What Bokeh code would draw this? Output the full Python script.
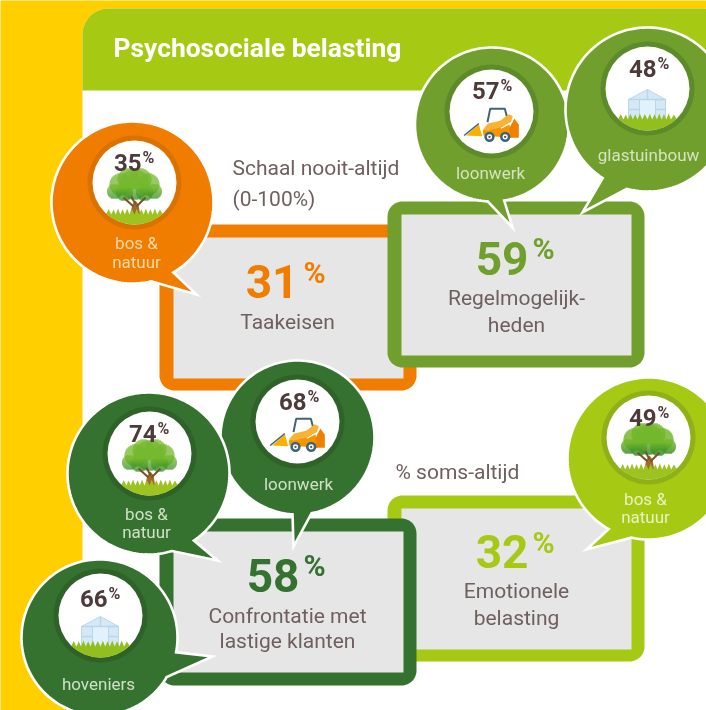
import numpy as np
from bokeh.embed import file_html
from bokeh.resources import INLINE
from bokeh.plotting import figure
from bokeh.models import Range1d
from bokeh.core.properties import value

# ---------- data ----------
title = "Psychosociale belasting"
note_scale = ["Schaal nooit-altijd", "(0-100%)"]
note_pct = "% soms-altijd"
box_names = [["Taakeisen"], ["Regelmogelijk-", "heden"], ["Emotionele", "belasting"], ["Confrontatie met", "lastige klanten"]]
box_values = [31, 59, 32, 58]
bubble_values = [35, 57, 48, 68, 74, 66, 49]
bubble_sectors = [["bos &", "natuur"], ["loonwerk"], ["glastuinbouw"], ["loonwerk"], ["bos &", "natuur"], ["hoveniers"], ["bos &", "natuur"]]
bubble_icons = ["tree", "loader", "house", "loader", "tree", "house", "tree"]

# ---------- styles & layout ----------
W, H = 706, 710
YELLOW, HEAD = "#FFCF00", "#A6C914"
ORANGE, MID, DARK, LIGHT = "#F07D00", "#709F2D", "#35722F", "#A6C914"
GREY = "#E6E6E6"
TXT, NUM = "#6F5F5F", "#4F3A3A"
FONT = value("Roboto")

# outer box, inner box, colour, number x (right), number baseline, % x, % baseline, label x, label baselines
boxes = [
    ((160, 225, 417, 391), (174, 238, 404, 379), ORANGE, 299, 298, 304, 283, 288, [329]),
    ((388, 202, 645, 368), (402, 215, 632, 356), MID, 529, 275, 533, 259, 517, [305, 332]),
    ((388, 496, 645, 662), (402, 509, 632, 650), LIGHT, 529, 568, 533, 553, 517, [598, 625]),
    ((160, 519, 417, 686), (174, 532, 404, 673), DARK, 300, 592, 304, 576, 288, [623, 648]),
]
box_order = [0, 1, 2, 3]

# centre, radius, attach a, attach b, tip, inner centre, colour, ring, label colour, number xr, baseline, label x, baselines
bubbles = [
    ((133, 203), 81, (175, 275), (152, 283), (197, 295), (135, 183), ORANGE, "#DB7200", "#FAD9A8", 142, 171, 137, [249, 268]),
    ((492.5, 125), 77, (505, 203), (488, 204), (513, 228), (492, 112), MID, "#5E8B2A", "#D5E3BE", 500, 99, 491, [179]),
    ((648, 110), 82, (603, 179), (627, 190), (583, 213), (648, 89), MID, "#5E8B2A", "#D5E3BE", 657, 77, 649, [161]),
    ((298, 438), 77, (293, 515), (312, 513), (294, 547), (298, 422), DARK, "#2F6229", "#D0E0C8", 307, 410, 299, [490]),
    ((149, 474), 81, (195, 542), (173, 553), (218, 561), (150, 454), DARK, "#2F6229", "#D0E0C8", 157, 442, 147, [520, 538]),
    ((100, 638), 78, (177, 653), (168, 678), (213, 657), (101, 616), DARK, "#2F6229", "#D0E0C8", 108, 607, 99, [690]),
    ((649, 459), 81, (609, 530), (632, 538), (587, 550), (649, 438), LIGHT, "#90B018", "#EAF2C4", 657, 426, 646, [505, 523]),
]

p = figure(width=W, height=H, x_range=Range1d(1, W + 1), y_range=Range1d(H + 1, 1),
           output_backend="svg", toolbar_location=None, min_border=0,
           background_fill_color=YELLOW, border_fill_color=YELLOW, outline_line_color=None)
p.axis.visible = False
p.grid.visible = False
p.styles = {"position": "fixed", "left": "0px", "top": "0px"}


def rrect(x0, y0, x1, y1, r, corners=(1, 1, 1, 1)):
    xs, ys = [], []
    spec = [(x1, y0, -90, corners[1]), (x1, y1, 0, corners[2]), (x0, y1, 90, corners[3]), (x0, y0, 180, corners[0])]
    for cx, cy, a, on in spec:
        if on:
            t = np.radians(np.linspace(a, a + 90, 14))
            sx = -1 if cx == x1 else 1
            sy = -1 if cy == y1 else 1
            xs += list(cx + sx * r + r * np.cos(t))
            ys += list(cy + sy * r + r * np.sin(t))
        else:
            xs.append(cx)
            ys.append(cy)
    return xs, ys


def txt(x, y, s, size, color, bold=False, align="center"):
    p.text([x], [y + 1 - 0.38 * size], text=[s], text_font=FONT, text_font_size=f"{size}px", text_color=color,
           text_align=align, text_baseline="alphabetic", text_font_style="bold" if bold else "normal")


# panel and header
px, py = rrect(83, 9, 730, 760, 26)
p.patch(px, py, fill_color="white", line_color=None)
hx, hy = rrect(83, 9, 730, 91, 26, corners=(1, 1, 0, 0))
p.patch(hx, hy, fill_color=HEAD, line_color=None)
txt(114, 58, title, 26.4, "white", bold=True, align="left")
txt(233, 175, note_scale[0], 21, TXT, align="left")
txt(233, 206, note_scale[1], 21, TXT, align="left")
txt(396, 479, note_pct, 21, TXT, align="left")

# boxes
for i in box_order:
    outer, inner, col, xr, base, xp, bp, lx, lbs = boxes[i]
    ox, oy = rrect(*outer, 15)
    p.patch(ox, oy, fill_color=col, line_color=None)
    p.quad(left=[inner[0]], right=[inner[2]], top=[inner[1]], bottom=[inner[3]], fill_color=GREY, line_color=None)
    txt(xr, base, str(box_values[i]), 46, col, bold=True, align="right")
    txt(xp, bp, "%", 30, col, bold=True, align="left")
    for s, b in zip(box_names[i], lbs):
        txt(lx, b, s, 21, TXT)


def mix(a, b, f):
    a = [int(a[i:i + 2], 16) for i in (1, 3, 5)]
    b = [int(b[i:i + 2], 16) for i in (1, 3, 5)]
    return "#%02x%02x%02x" % tuple(int(u + (v - u) * f) for u, v in zip(a, b))


def grass(cx, cy, top, color, r=42):
    spikes = np.array([-1, .55, -.82, .2, -.66, .9, -.5, .3, -.34, 1, -.18, .45, 0, .8, .16, .3, .32, 1, .48, .4, .64, .85, .8, .2, 1])
    hw = np.sqrt(r ** 2 - top ** 2)
    sx = spikes[::2] * hw
    xs, ys = [], []
    for i, x in enumerate(sx):
        xs.append(cx + x)
        ys.append(cy + top + 1)
        if i < len(sx) - 1:
            xs.append(cx + (x + sx[i + 1]) / 2)
            ys.append(cy + top - 2.5 - (spikes[2 * i + 1] + 1) * 1.3)
    a0 = np.arctan2(top, hw)
    t = np.linspace(a0, np.pi - a0, 30)
    xs += list(cx + r * np.cos(t))
    ys += list(cy + r * np.sin(t))
    p.patch(xs, ys, fill_color=color, line_color=None)


LOBES = [(-6, -3, 11), (6, -3, 11), (0, 2, 15), (-14, 2, 11), (14, 2, 11), (-20, 9, 7.5), (20, 9, 7.5), (-10, 10, 8.5), (10, 10, 8.5)]


def tree(cx, cy):
    rows = np.arange(-15, 19, 1.0)
    for yy in rows:
        f = np.clip((yy - 5) / 12, 0, 1)
        col = mix("#74B72C", "#2C8A26", f)
        for lx, ly, lr in LOBES:
            d = lr ** 2 - (yy + .5 - ly) ** 2
            if d > 0:
                w = np.sqrt(d)
                p.quad(left=[cx + lx - w], right=[cx + lx + w], top=[cy + yy - .1], bottom=[cy + yy + 1.1], fill_color=col, line_color=None)
    p.patch([cx - 5, cx + 6, cx + 4, cx + 1, cx - 2], [cy + 34, cy + 34, cy + 22, cy + 18, cy + 22], fill_color="#A2692B", line_color=None)
    p.segment([cx - 1, cx + 2, cx + 1], [cy + 24, cy + 24, cy + 22], [cx - 11, cx + 11, cx - 3], [cy + 15, cy + 15, cy + 14], line_color="#7A5228", line_width=2)
    grass(cx, cy, 31, "#9CC31F")


def house(cx, cy):
    fr, gl, gl2 = "#BCD6E8", "#D3E9F8", "#E2F2FC"
    p.patch([cx - 19, cx, cx + 18, cx + 18, cx - 19], [cy + 11, cy + 1, cy + 11, cy + 33, cy + 33], fill_color=gl, line_color=fr, line_width=1)
    p.quad(left=[cx - 8], right=[cx + 8], top=[cy + 11], bottom=[cy + 33], fill_color=gl2, line_color=fr, line_width=1)
    p.segment([cx, cx - 19, cx + 8, cx - 19, cx + 8], [cy + 1, cy + 21, cy + 21, cy + 11, cy + 11],
              [cx, cx - 8, cx + 18, cx + 18, cx + 18], [cy + 11, cy + 21, cy + 21, cy + 11, cy + 11], line_color=fr, line_width=1.5)
    grass(cx, cy, 30, "#93BF1E")


def loader(cx, cy):
    f = lambda pts: ([cx + a / 3 - 32 for a, _ in pts], [cy + b / 3 - 12 for _, b in pts])
    NAVY = "#3F6478"
    xs, ys = f([(84, 68), (92, 28), (136, 28), (143, 54)])
    p.line(xs, ys, line_color=NAVY, line_width=2)
    xs, ys = f([(20, 108), (58, 74), (68, 110)])
    p.patch(xs, ys, fill_color="#F9B000", line_color=None)
    xs, ys = f([(14, 108), (58, 72)])
    p.line(xs, ys, line_color=NAVY, line_width=1.6)
    xs, ys = f([(70, 92), (150, 74), (156, 115), (72, 108)])
    p.patch(xs, ys, fill_color="#F59500", line_color=None)
    xs, ys = f([(164, 56), (178, 76), (178, 115), (152, 115), (150, 86)])
    p.patch(xs, ys, fill_color="#F08000", line_color=None)
    xs, ys = f([(70, 90), (86, 72), (122, 64), (148, 44), (160, 50), (154, 68), (122, 84), (84, 94)])
    p.patch(xs, ys, fill_color="#F9B233", line_color=None)
    xs, ys = f([(124, 86), (156, 70), (164, 54)])
    p.line(xs, ys, line_color="white", line_width=1.2)
    for wx in (90, 137):
        (wcx,), (wcy,) = f([(wx, 112)])
        p.circle([wcx], [wcy], radius=5.2, fill_color=NAVY, line_color=None)
        p.circle([wcx], [wcy], radius=2.6, fill_color="white", line_color=None)
        p.circle([wcx], [wcy], radius=1.2, fill_color=NAVY, line_color=None)


ICONS = {"tree": tree, "house": house, "loader": loader}


def bubble_shape(c, r, a, b, tip):
    ang = [np.arctan2(q[1] - c[1], q[0] - c[0]) for q in (a, b)]
    a0, a1 = ang
    d = (a1 - a0 + np.pi) % (2 * np.pi) - np.pi
    if d < 0:
        a0, a1 = a1, a0
        a, b = b, a
    t = np.linspace(a1, a0 + 2 * np.pi, 160)
    xs = list(c[0] + r * np.cos(t)) + [tip[0]]
    ys = list(c[1] + r * np.sin(t)) + [tip[1]]
    return xs, ys


for i, (c, r, a, b, tip, ic, col, ring, lab, xr, base, lx, lbs) in enumerate(bubbles):
    xs, ys = bubble_shape(c, r, a, b, tip)
    p.patch(xs, ys, fill_color=col, line_color="white", line_width=2.6, line_join="miter")
    p.circle([ic[0]], [ic[1]], radius=47, fill_color=ring, line_color=None)
    p.circle([ic[0]], [ic[1]], radius=42, fill_color="white", line_color=None)
    ICONS[bubble_icons[i]](ic[0], ic[1])
    txt(xr, base, str(bubble_values[i]), 24, NUM, bold=True, align="right")
    txt(xr + 1, base - 8, "%", 16, NUM, bold=True, align="left")
    for s, bb in zip(bubble_sectors[i], lbs):
        txt(lx, bb, s, 17, lab)

open("out.html", "w").write(file_html(p, INLINE))
